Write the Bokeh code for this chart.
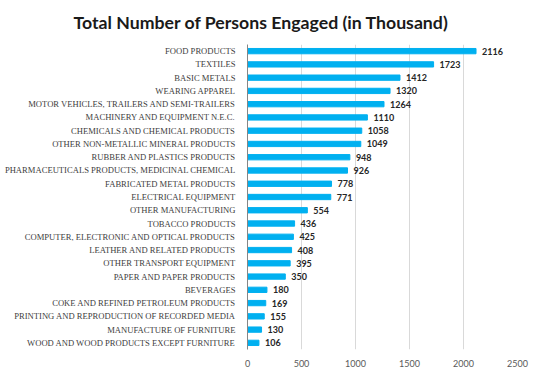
from bokeh.plotting import figure
from bokeh.models import ColumnDataSource, FactorRange, Range1d, FixedTicker
from bokeh.embed import file_html
from bokeh.resources import INLINE
from bokeh.core.properties import value

categories = ["FOOD PRODUCTS", "TEXTILES", "BASIC METALS", "WEARING APPAREL",
              "MOTOR VEHICLES, TRAILERS AND SEMI-TRAILERS", "MACHINERY AND EQUIPMENT N.E.C.",
              "CHEMICALS AND CHEMICAL PRODUCTS", "OTHER NON-METALLIC MINERAL PRODUCTS",
              "RUBBER AND PLASTICS PRODUCTS", "PHARMACEUTICALS PRODUCTS, MEDICINAL CHEMICAL",
              "FABRICATED METAL PRODUCTS", "ELECTRICAL EQUIPMENT", "OTHER MANUFACTURING",
              "TOBACCO PRODUCTS", "COMPUTER, ELECTRONIC AND OPTICAL PRODUCTS",
              "LEATHER AND RELATED PRODUCTS", "OTHER TRANSPORT EQUIPMENT",
              "PAPER AND PAPER PRODUCTS", "BEVERAGES", "COKE AND REFINED PETROLEUM PRODUCTS",
              "PRINTING AND REPRODUCTION OF RECORDED MEDIA", "MANUFACTURE OF FURNITURE",
              "WOOD AND WOOD PRODUCTS EXCEPT FURNITURE"]
persons = [2116, 1723, 1412, 1320, 1264, 1110, 1058, 1049, 948, 926, 778, 771, 554,
           436, 425, 408, 395, 350, 180, 169, 155, 130, 106]
x_ticks = [0, 500, 1000, 1500, 2000, 2500]

source = ColumnDataSource(dict(cat=categories, val=persons, lab=[str(v) for v in persons]))

p = figure(width=535, height=370, output_backend="svg", toolbar_location=None,
           y_range=FactorRange(*reversed(categories), range_padding=0),
           x_range=Range1d(0, 2500),
           min_border_left=247, min_border_right=18, min_border_top=43, min_border_bottom=21,
           title="Total Number of Persons Engaged (in Thousand)")

p.title.text_font = "Lato"
p.title.text_font_style = "bold"
p.title.text_font_size = "17.7px"
p.title.text_color = "#1a1a1a"
p.title.align = "left"
p.title.offset = -174
p.title.standoff = 21
p.title.vertical_align = "middle"

p.hbar(y="cat", right="val", left=0, height=0.4, source=source, color="#00B0F0")
p.text(x="val", y="cat", text="lab", source=source, x_offset=6,
       text_align="left", text_baseline="middle",
       text_font=value("Lato"), text_font_style="bold", text_font_size="9px", text_color="#262626")

p.outline_line_color = None
p.background_fill_color = "white"
p.ygrid.grid_line_color = None
p.xgrid.grid_line_color = "#d9d9d9"
p.xgrid.ticker = FixedTicker(ticks=x_ticks)

p.xaxis.ticker = FixedTicker(ticks=x_ticks)
p.xaxis.axis_line_color = None
p.xaxis.major_tick_line_color = None
p.xaxis.minor_tick_line_color = None
p.xaxis.major_label_standoff = 4
p.xaxis.major_label_text_font = "Lato"
p.xaxis.major_label_text_font_size = "9px"
p.xaxis.major_label_text_color = "#595959"

p.yaxis.axis_line_color = "#868686"
p.yaxis.major_tick_line_color = None
p.yaxis.minor_tick_line_color = None
p.yaxis.major_label_standoff = 6
p.yaxis.major_label_text_font = "Liberation Serif"
p.yaxis.major_label_text_font_size = "8.6px"
p.yaxis.major_label_text_color = "#404040"

open("out.html", "w").write(file_html(p, INLINE))
